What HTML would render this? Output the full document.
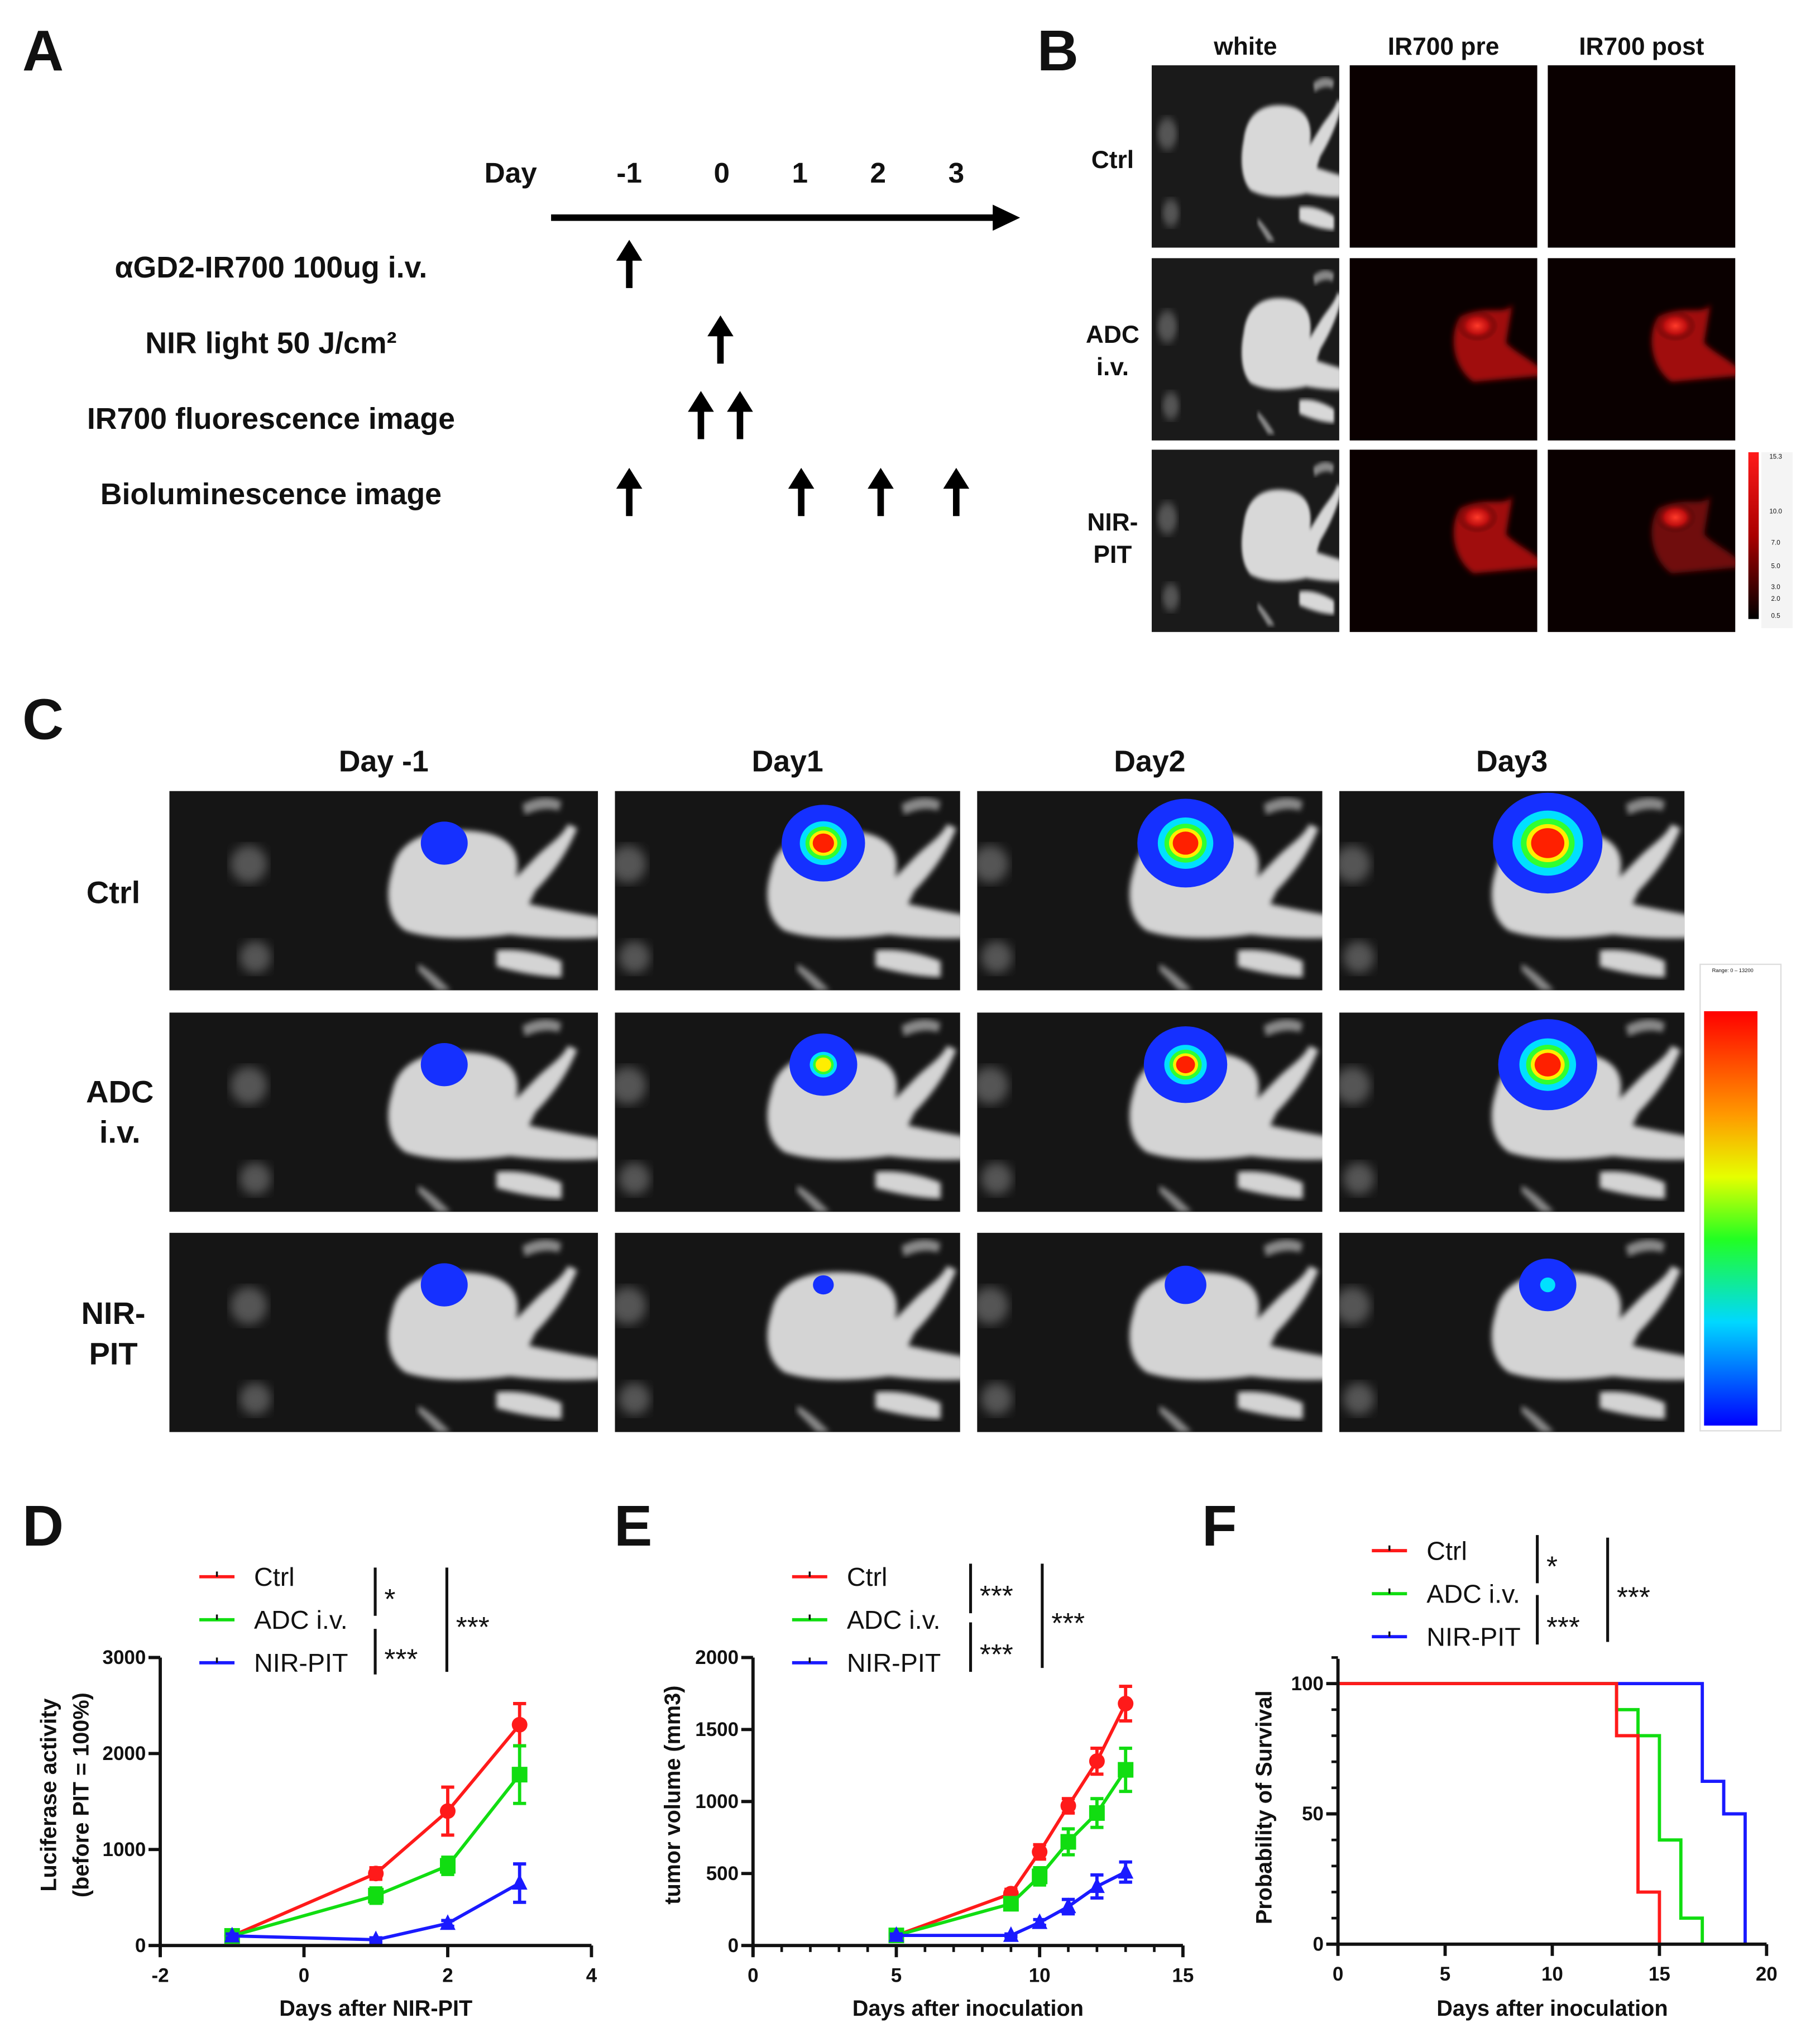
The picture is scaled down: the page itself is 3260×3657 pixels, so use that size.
<!DOCTYPE html>
<html><head><meta charset="utf-8"><style>
html,body{margin:0;padding:0;background:#fff;}
svg{display:block;font-family:"Liberation Sans",Arial,sans-serif;}
</style></head><body>
<svg id="fig" width="3260" height="3657" viewBox="0 0 1397 1567" xmlns="http://www.w3.org/2000/svg">
<defs id="defs">
<filter id="blur2"><feGaussianBlur stdDeviation="2"/></filter>
<filter id="blur4"><feGaussianBlur stdDeviation="4"/></filter>
<radialGradient id="irGlow"><stop offset="0" stop-color="#ff3a2a"/><stop offset="0.5" stop-color="#c01010"/><stop offset="1" stop-color="#300000" stop-opacity="0"/></radialGradient>
<linearGradient id="cbarB" x1="0" y1="0" x2="0" y2="1"><stop offset="0" stop-color="#ff1a1a"/><stop offset="0.5" stop-color="#aa0000"/><stop offset="1" stop-color="#000"/></linearGradient>
<linearGradient id="cbarC" x1="0" y1="0" x2="0" y2="1"><stop offset="0" stop-color="#ff0000"/><stop offset="0.25" stop-color="#ff9900"/><stop offset="0.4" stop-color="#e6ff00"/><stop offset="0.55" stop-color="#22ff22"/><stop offset="0.75" stop-color="#00d8ff"/><stop offset="1" stop-color="#0000ff"/></linearGradient>
</defs>
<g id="root"></g>
</svg>
<script>
// ---------- chart data ----------
const dDays = [-1, 1, 2, 3];
const dCtrl = [100, 750, 1400, 2300];
const dCtrlErr = [30, 60, 250, 220];
const dAdc = [100, 520, 830, 1780];
const dAdcErr = [30, 80, 90, 300];
const dNir = [100, 60, 230, 650];
const dNirErr = [20, 20, 30, 200];
const dXTicks = [-2, 0, 2, 4];
const dYTicks = [0, 1000, 2000, 3000];

const eDays = [5, 9, 10, 11, 12, 13];
const eCtrl = [70, 360, 650, 970, 1280, 1680];
const eCtrlErr = [20, 30, 50, 50, 90, 120];
const eAdc = [70, 290, 480, 720, 920, 1220];
const eAdcErr = [20, 30, 60, 90, 100, 150];
const eNir = [70, 70, 160, 270, 410, 510];
const eNirErr = [10, 10, 20, 50, 80, 70];
const eXTicks = [0, 5, 10, 15];
const eYTicks = [0, 500, 1000, 1500, 2000];

const fCtrlT = [0, 13, 14, 15];
const fCtrlS = [100, 80, 20, 0];
const fAdcT = [0, 13, 14, 15, 16, 17];
const fAdcS = [100, 90, 80, 40, 10, 0];
const fNirT = [0, 17, 18, 19];
const fNirS = [100, 62.5, 50, 0];
const fXTicks = [0, 5, 10, 15, 20];
const fYTicks = [0, 50, 100];

const NS = "http://www.w3.org/2000/svg";
const root = document.getElementById('root');
const defs = document.getElementById('defs');
function el(tag, attrs, parent, text) {
  const e = document.createElementNS(NS, tag);
  for (const k in attrs) e.setAttribute(k, attrs[k]);
  if (text !== undefined) e.textContent = text;
  (parent || root).appendChild(e);
  return e;
}
let clipN = 0;
function clipRect(x, y, w, h) {
  const id = 'clip' + (clipN++);
  const cp = el('clipPath', {id: id}, defs);
  el('rect', {x: x, y: y, width: w, height: h}, cp);
  return 'url(#' + id + ')';
}
function txt(x, y, s, size, opts, parent) {
  opts = opts || {};
  const t = el('text', {x: x, y: y, 'font-size': size, 'font-weight': opts.w || 'bold', 'text-anchor': opts.a || 'middle', fill: opts.fill || '#111'}, parent, s);
  if (opts.rot) t.setAttribute('transform', 'rotate(-90 ' + x + ' ' + y + ')');
  
  
  return t;
}
function upArrow(x, y1, y2, name) {
  const g = el('g', {});
  
  
  el('line', {x1: x, y1: y1 + 10, x2: x, y2: y2, stroke: '#000', 'stroke-width': 5}, g);
  el('polygon', {points: (x - 10) + ',' + (y1 + 14) + ' ' + (x + 10) + ',' + (y1 + 14) + ' ' + x + ',' + (y1 - 2), fill: '#000'}, g);
}

// ---------- Panel A ----------
txt(33, 54, 'A', 44, {name: 'panel-a-letter'});
txt(392, 140, 'Day', 22, {name: 'day-label'});
const dayLbl = ['-1', '0', '1', '2', '3'], dayX = [483, 554, 614, 674, 734];
dayLbl.forEach((d, i) => txt(dayX[i], 140, d, 22, {name: 'timeline-day-' + d}));
const tl = el('g', {});


el('line', {x1: 423, y1: 167, x2: 768, y2: 167, stroke: '#000', 'stroke-width': 5}, tl);
el('polygon', {points: '762,157 783,167 762,177', fill: '#000'}, tl);
const rowsA = ['αGD2-IR700 100ug i.v.', 'NIR light 50 J/cm²', 'IR700 fluorescence image', 'Bioluminescence image'];
const rowsAy = [213, 271, 329, 387];
rowsA.forEach((r, i) => txt(208, rowsAy[i], r, 23, {name: 'treatment-row-' + i}));
upArrow(483, 186, 221, 'arrow-adc');
upArrow(553, 244, 279, 'arrow-nir-light');
upArrow(538, 302, 337, 'arrow-ir700-pre');
upArrow(568, 302, 337, 'arrow-ir700-post');
[483, 615, 676, 734].forEach((x, i) => upArrow(x, 361, 396, 'arrow-bli-' + i));

// ---------- mouse drawing ----------
function mouse(gx, gy, w, h, parent, brightness) {
  const g = el('g', {transform: 'translate(' + gx + ',' + gy + ') scale(' + (w / 300) + ',' + (h / 150) + ')'}, parent);
  const c = brightness;
  el('path', {d: 'M170,60 C175,35 200,28 230,30 C260,32 270,45 265,65 L280,50 C290,40 300,35 305,25 L312,28 C305,45 295,60 280,75 L275,85 C290,88 310,92 330,95 L330,110 C300,112 280,110 260,108 C230,112 200,112 180,105 C165,95 165,75 170,60 Z', fill: c, filter: 'url(#blur2)'}, g);
  el('path', {d: 'M250,120 C265,118 285,122 300,128 L300,140 C285,140 265,136 250,132 Z', fill: c, filter: 'url(#blur2)'}, g);
  el('ellipse', {cx: 60, cy: 55, rx: 14, ry: 14, fill: '#555', filter: 'url(#blur4)'}, g);
  el('ellipse', {cx: 65, cy: 125, rx: 12, ry: 12, fill: '#555', filter: 'url(#blur4)'}, g);
  el('path', {d: 'M190,130 C200,135 210,145 215,150 L205,150 C200,145 195,140 190,135Z', fill: '#888', filter: 'url(#blur2)'}, g);
  el('path', {d: 'M270,10 C280,5 290,3 300,8 L298,15 C290,12 280,14 272,18Z', fill: '#888', filter: 'url(#blur2)'}, g);
  return g;
}

// ---------- Panel B ----------
txt(812, 54, 'B', 44, {name: 'panel-b-letter'});
const bCols = ['white', 'IR700 pre', 'IR700 post'], bColX = [884, 1036, 1188];
bCols.forEach((c, i) => txt(bColX[i] + 72, 42, c, 19, {name: 'column-header-' + i}));
const bRowY = [50, 198, 345];
const bRows = [['Ctrl'], ['ADC', 'i.v.'], ['NIR-', 'PIT']];
const bRowLY = [[129], [263, 288], [407, 432]];
bRows.forEach((r, i) => r.forEach((s, j) => txt(854, bRowLY[i][j], s, 19, {name: 'row-label-b-' + i})));
const irGlow = [[0, 0], [1, 1], [1, 0.6]];
for (let r = 0; r < 3; r++) {
  for (let c = 0; c < 3; c++) {
    const g = el('g', {'clip-path': clipRect(bColX[c], bRowY[r], 144, 140)});
    
    
    el('rect', {x: bColX[c], y: bRowY[r], width: 144, height: 140, fill: c === 0 ? '#1a1a1a' : '#0a0000'}, g);
    if (c === 0) mouse(bColX[c] - 20, bRowY[r] + 5, 160, 130, g, '#d8d8d8');
    else if (r > 0) {
      const k = irGlow[r][c - 1];
      el('path', {d: 'M' + (bColX[c] + 85) + ',' + (bRowY[r] + 45) + ' c20,-10 35,0 40,-10 l-5,30 c10,10 25,15 30,25 l-55,5 c-15,-10 -20,-35 -10,-50z', fill: k > 0.8 ? '#a01010' : '#701010', filter: 'url(#blur2)'}, g);
      el('ellipse', {cx: bColX[c] + 98, cy: bRowY[r] + 52, rx: 16, ry: 12, fill: 'url(#irGlow)'}, g);
    }
  }
}
const cbB = el('g', {});


el('rect', {x: 1342, y: 347, width: 8, height: 128, fill: 'url(#cbarB)'}, cbB);
el('rect', {x: 1352, y: 347, width: 24, height: 135, fill: '#f4f4f4'}, cbB);
['15.3', '10.0', '7.0', '5.0', '3.0', '2.0', '0.5'].forEach((v, i) => txt(1363, [352, 394, 418, 436, 452, 461, 474][i], v, 5, {w: 'normal', name: 'colorbar-b-tick'}, cbB));

// ---------- Panel C ----------
txt(33, 567, 'C', 44, {name: 'panel-c-letter'});
const cCols = ['Day -1', 'Day1', 'Day2', 'Day3'];
const cColX = [130, 472, 750, 1028], cColW = [329, 265, 265, 265];
cCols.forEach((c, i) => txt(cColX[i] + cColW[i] / 2, 592, c, 23, {name: 'bli-column-' + i}));
const cRowY = [607, 777, 946];
const cRows = [['Ctrl'], ['ADC', 'i.v.'], ['NIR-', 'PIT']];
const cRowLY = [[693], [846, 877], [1016, 1047]];
const cRowLX = [87, 92, 87];
cRows.forEach((r, i) => r.forEach((s, j) => txt(cRowLX[i], cRowLY[i][j], s, 24, {name: 'bli-row-label-' + i})));
const tumR = [[18, 32, 37, 42], [18, 26, 32, 38], [18, 8, 16, 22]];
const tumHot = [[0, 0.8, 0.85, 1], [0, 0.45, 0.7, 0.85], [0, 0, 0, 0.15]];
for (let r = 0; r < 3; r++) {
  for (let c = 0; c < 4; c++) {
    const x = cColX[c], y = cRowY[r], w = cColW[c];
    const g = el('g', {'clip-path': clipRect(x, y, w, 153)});
    
    
    el('rect', {x: x, y: y, width: w, height: 153, fill: '#151515'}, g);
    const mx = c === 0 ? x + 1 : x - 50;
    mouse(mx, y, 300, 153, g, '#d4d4d4');
    const tx = mx + 210, ty = y + 40;
    const R = tumR[r][c], H = tumHot[r][c];
    el('ellipse', {cx: tx, cy: ty, rx: R, ry: R * 0.92, fill: '#1530ff'}, g);
    if (H > 0) {
      el('ellipse', {cx: tx, cy: ty, rx: R * 0.55 * H + 4, ry: R * 0.5 * H + 4, fill: '#00e0ff'}, g);
      if (H > 0.3) el('ellipse', {cx: tx, cy: ty, rx: R * 0.42 * H + 3, ry: R * 0.38 * H + 3, fill: '#30ff30'}, g);
      if (H > 0.4) el('ellipse', {cx: tx, cy: ty, rx: R * 0.34 * H + 2, ry: R * 0.3 * H + 2, fill: '#ffee00'}, g);
      if (H > 0.6) el('ellipse', {cx: tx, cy: ty, rx: R * 0.28 * H + 1, ry: R * 0.25 * H + 1, fill: '#ff2000'}, g);
    }
  }
}
const cbC = el('g', {});


el('rect', {x: 1305, y: 740, width: 62, height: 358, fill: '#fff', stroke: '#ddd', 'stroke-width': 1}, cbC);
el('rect', {x: 1308, y: 776, width: 41, height: 318, fill: 'url(#cbarC)'}, cbC);
txt(1330, 746, 'Range: 0 – 13200', 4, {w: 'normal', name: 'colorbar-range'}, cbC);

// ---------- line chart helper ----------
function lineChart(cfg) {
  const g = el('g', {});
  
  
  const sx = v => cfg.x0 + (v - cfg.xmin) / (cfg.xmax - cfg.xmin) * (cfg.x1 - cfg.x0);
  const sy = v => cfg.y0 - (v - cfg.ymin) / (cfg.ymax - cfg.ymin) * (cfg.y0 - cfg.y1);
  cfg.series.forEach(s => {
    const sg = el('g', {}, g);
    
    
    if (s.step) {
      let d = 'M' + sx(s.x[0]) + ',' + sy(s.y[0]);
      for (let i = 1; i < s.x.length; i++) d += ' H' + sx(s.x[i]) + ' V' + sy(s.y[i]);
      const p = el('path', {d: d, fill: 'none', stroke: s.color, 'stroke-width': 2.5}, sg);
      
      
      return;
    }
    const pts = s.x.map((v, i) => sx(v) + ',' + sy(s.y[i])).join(' ');
    const pl = el('polyline', {points: pts, fill: 'none', stroke: s.color, 'stroke-width': 2.5}, sg);
    
    
    s.x.forEach((v, i) => {
      const X = sx(v), Y = sy(s.y[i]), e = s.err[i];
      const eb = el('path', {d: 'M' + X + ',' + sy(s.y[i] - e) + 'V' + sy(s.y[i] + e) + 'M' + (X - 5) + ',' + sy(s.y[i] + e) + 'h10M' + (X - 5) + ',' + sy(s.y[i] - e) + 'h10', stroke: s.color, 'stroke-width': 2.5, fill: 'none'}, sg);
      
      
      let m;
      if (s.marker === 'circle') m = el('circle', {cx: X, cy: Y, r: 6, fill: s.color}, sg);
      else if (s.marker === 'square') m = el('rect', {x: X - 6, y: Y - 6, width: 12, height: 12, fill: s.color}, sg);
      else m = el('polygon', {points: (X - 6) + ',' + (Y + 5) + ' ' + (X + 6) + ',' + (Y + 5) + ' ' + X + ',' + (Y - 7), fill: s.color}, sg);
      
      
    });
  });
  el('line', {x1: cfg.x0, y1: cfg.yTop || cfg.y1, x2: cfg.x0, y2: cfg.y0 + 8, stroke: '#111', 'stroke-width': 2.5}, g);
  el('line', {x1: cfg.x0, y1: cfg.y0, x2: cfg.x1, y2: cfg.y0, stroke: '#111', 'stroke-width': 2.5}, g);
  (cfg.xMinor || []).forEach(v => el('line', {x1: sx(v), y1: cfg.y0, x2: sx(v), y2: cfg.y0 + 5, stroke: '#111', 'stroke-width': 2}, g));
  (cfg.yMinor || []).forEach(v => el('line', {x1: cfg.x0 - 5, y1: sy(v), x2: cfg.x0, y2: sy(v), stroke: '#111', 'stroke-width': 2}, g));
  cfg.xTicks.forEach(v => {
    el('line', {x1: sx(v), y1: cfg.y0, x2: sx(v), y2: cfg.y0 + 9, stroke: '#111', 'stroke-width': 2.5}, g);
    txt(sx(v), cfg.y0 + 28, String(v), 15, {name: 'x-tick-label'}, g);
  });
  cfg.yTicks.forEach(v => {
    el('line', {x1: cfg.x0 - 9, y1: sy(v), x2: cfg.x0, y2: sy(v), stroke: '#111', 'stroke-width': 2.5}, g);
    txt(cfg.x0 - 11, sy(v) + 5, String(v), 15, {a: 'end', name: 'y-tick-label'}, g);
  });
  txt((cfg.x0 + cfg.x1) / 2, 1547, cfg.xTitle, 17, {name: 'x-axis-title'}, g);
  cfg.yTitle.forEach((t, i) => txt(cfg.yTitleX + i * 25, (cfg.y0 + cfg.y1) / 2 - 5, t, 17, {rot: true, name: 'y-axis-title'}, g));
  const lg = el('g', {}, g);
  
  
  const names = ['Ctrl', 'ADC i.v.', 'NIR-PIT'], cols = ['#ff1a1a', '#11dd11', '#1a1aff'];
  names.forEach((n, i) => {
    const y = cfg.legY + i * 33;
    el('line', {x1: cfg.legX, y1: y, x2: cfg.legX + 27, y2: y, stroke: cols[i], 'stroke-width': 2.5}, lg);
    el('line', {x1: cfg.legX + 13.5, y1: y - 4, x2: cfg.legX + 13.5, y2: y, stroke: '#111', 'stroke-width': 1.5}, lg);
    txt(cfg.legX + 42, y + 7, n, 20, {w: 'normal', a: 'start', name: 'legend-entry-' + i}, lg);
  });
  const b = cfg.sig;
  el('line', {x1: b.x1, y1: b.a0, x2: b.x1, y2: b.a1, stroke: '#111', 'stroke-width': 2.2}, lg);
  el('line', {x1: b.x1, y1: b.b0, x2: b.x1, y2: b.b1, stroke: '#111', 'stroke-width': 2.2}, lg);
  el('line', {x1: b.x2, y1: b.c0, x2: b.x2, y2: b.c1, stroke: '#111', 'stroke-width': 2.2}, lg);
  txt(b.x1 + 7, (b.a0 + b.a1) / 2 + 13, b.s1, 22, {w: 'normal', a: 'start', name: 'significance-ctrl-adc'}, lg);
  txt(b.x1 + 7, (b.b0 + b.b1) / 2 + 13, b.s2, 22, {w: 'normal', a: 'start', name: 'significance-adc-nir'}, lg);
  txt(b.x2 + 7, (b.c0 + b.c1) / 2 + 13, b.s3, 22, {w: 'normal', a: 'start', name: 'significance-ctrl-nir'}, lg);
}

// ---------- Panel D ----------
txt(33, 1186, 'D', 44, {name: 'panel-d-letter'});
lineChart({name: 'chart-luciferase', x0: 123, x1: 454, y0: 1493, y1: 1272, xmin: -2, xmax: 4, ymin: 0, ymax: 3000,
  xTicks: dXTicks, yTicks: dYTicks, xTitle: 'Days after NIR-PIT', yTitle: ['Luciferase activity', '(before PIT = 100%)'], yTitleX: 43,
  legX: 153, legY: 1210,
  sig: {x1: 288, x2: 343, a0: 1203, a1: 1240, b0: 1250, b1: 1285, c0: 1203, c1: 1283, s1: '*', s2: '***', s3: '***'},
  series: [
    {key: 'ctrl', x: dDays, y: dCtrl, err: dCtrlErr, color: '#ff1a1a', marker: 'circle'},
    {key: 'adc', x: dDays, y: dAdc, err: dAdcErr, color: '#11dd11', marker: 'square'},
    {key: 'nir-pit', x: dDays, y: dNir, err: dNirErr, color: '#1a1aff', marker: 'tri'}]});

// ---------- Panel E ----------
txt(486, 1186, 'E', 44, {name: 'panel-e-letter'});
lineChart({name: 'chart-tumor-volume', x0: 578, x1: 908, y0: 1493, y1: 1272, xmin: 0, xmax: 15, ymin: 0, ymax: 2000,
  xTicks: eXTicks, yTicks: eYTicks, xMinor: [1,2,3,4,6,7,8,9,11,12,13,14], xTitle: 'Days after inoculation', yTitle: ['tumor volume (mm3)'], yTitleX: 522,
  legX: 608, legY: 1210,
  sig: {x1: 745, x2: 800, a0: 1200, a1: 1238, b0: 1245, b1: 1283, c0: 1200, c1: 1280, s1: '***', s2: '***', s3: '***'},
  series: [
    {key: 'ctrl', x: eDays, y: eCtrl, err: eCtrlErr, color: '#ff1a1a', marker: 'circle'},
    {key: 'adc', x: eDays, y: eAdc, err: eAdcErr, color: '#11dd11', marker: 'square'},
    {key: 'nir-pit', x: eDays, y: eNir, err: eNirErr, color: '#1a1aff', marker: 'tri'}]});

// ---------- Panel F ----------
txt(936, 1186, 'F', 44, {name: 'panel-f-letter'});
lineChart({name: 'chart-survival', x0: 1027, x1: 1356, y0: 1492, y1: 1292, yTop: 1273, xmin: 0, xmax: 20, ymin: 0, ymax: 100,
  xTicks: fXTicks, yTicks: fYTicks, yMinor: [10,20,30,40,60,70,80,90,110], xTitle: 'Days after inoculation', yTitle: ['Probability of Survival'], yTitleX: 976,
  legX: 1053, legY: 1190,
  sig: {x1: 1180, x2: 1234, a0: 1178, a1: 1215, b0: 1224, b1: 1262, c0: 1180, c1: 1260, s1: '*', s2: '***', s3: '***'},
  series: [
    {key: 'nir-pit', x: fNirT, y: fNirS, color: '#1a1aff', step: true},
    {key: 'adc', x: fAdcT, y: fAdcS, color: '#11dd11', step: true},
    {key: 'ctrl', x: fCtrlT, y: fCtrlS, color: '#ff1a1a', step: true}]});
</script>
</body></html>
